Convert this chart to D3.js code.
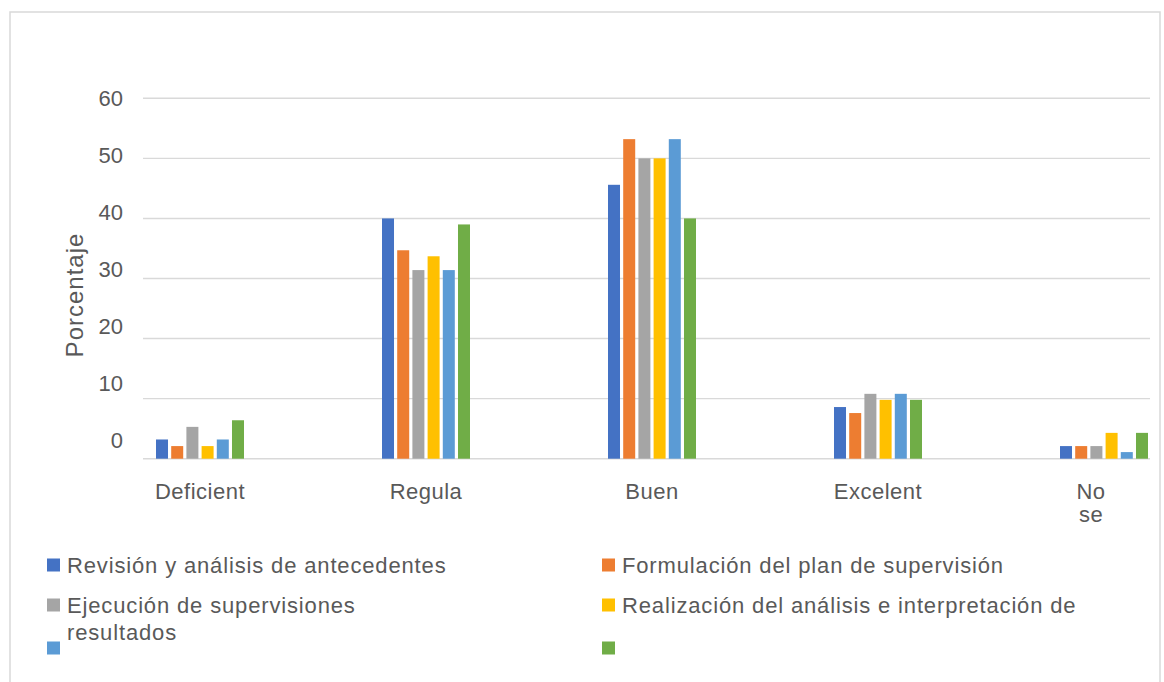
<!DOCTYPE html>
<html>
<head>
<meta charset="utf-8">
<script src="https://cdn.jsdelivr.net/npm/d3@7"></script>
<style>
  body { margin: 0; background: #fff; }
  svg text { font-family: "Liberation Sans", Arial, sans-serif; fill: #595959; }
</style>
</head>
<body>
<svg id="svg" width="1164" height="682"></svg>
<script>
// categories and series
const categories = ["Deficient", "Regula", "Buen", "Excelent", "No se"];
const seriesNames = [
  "Revisión y análisis de antecedentes",
  "Formulación del plan de supervisión",
  "Ejecución de supervisiones",
  "Realización del análisis e interpretación de resultados",
  "",
  ""
];
const seriesColors = ["#4472C4", "#ED7D31", "#A5A5A5", "#FFC000", "#5B9BD5", "#70AD47"];

const revision    = [3.2, 40.0, 45.6, 8.6, 2.1];
const formulacion = [2.1, 34.7, 53.2, 7.6, 2.1];
const ejecucion   = [5.3, 31.4, 50.0, 10.8, 2.1];
const realizacion = [2.1, 33.7, 50.0, 9.8, 4.3];
const serie5      = [3.2, 31.4, 53.2, 10.8, 1.1];
const serie6      = [6.4, 39.0, 40.0, 9.8, 4.3];
const seriesValues = [revision, formulacion, ejecucion, realizacion, serie5, serie6];

const yTicks = [0, 10, 20, 30, 40, 50, 60];

const svg = d3.select("#svg");

// chart frame
svg.append("rect")
  .attr("x", 10).attr("y", 12)
  .attr("width", 1150).attr("height", 700)
  .attr("fill", "none")
  .attr("stroke", "#d9d9d9")
  .attr("stroke-width", 1.5);

var y = d3.scaleLinear().domain([0, 60]).range([458.7, 98.3]);
// tick labels sit on a slightly compressed scale in the original
var yLabel = d3.scaleLinear().domain([0, 60]).range([440.3, 98.3]);

var x0 = d3.scaleBand().domain(categories).range([87, 1217]).padding(0);
var x1 = d3.scaleBand().domain(d3.range(seriesNames.length)).range([-44, 44]).paddingInner(0.21);

var plotRight = 1150;

// gridlines
svg.append("g")
  .selectAll("line")
  .data(yTicks)
  .enter().append("line")
    .attr("x1", 143).attr("x2", plotRight)
    .attr("y1", d => y(d)).attr("y2", d => y(d))
    .attr("stroke", "#d9d9d9")
    .attr("stroke-width", 1.4);

// y tick labels
const yAxis = svg.append("g")
  .attr("transform", "translate(123,0)")
  .call(d3.axisLeft(yLabel).tickValues(yTicks).tickSize(0).tickPadding(0));
yAxis.select(".domain").remove();
yAxis.selectAll("text")
  .attr("fill", "#595959")
  .style("font-size", "22px")
  .style("font-family", "Liberation Sans, Arial, sans-serif");

// y title
svg.append("text")
  .attr("transform", "translate(83,295) rotate(-90)")
  .attr("text-anchor", "middle")
  .style("font-size", "24px")
  .style("letter-spacing", "1px")
  .text("Porcentaje");

// bars
const groups = svg.append("g")
  .selectAll("g")
  .data(categories)
  .enter().append("g")
    .attr("transform", d => "translate(" + (x0(d) + x0.bandwidth() / 2) + ",0)");

groups.selectAll("rect")
  .data((c, ci) => seriesValues.map((vals, si) => ({ si: si, v: vals[ci] })))
  .enter().append("rect")
    .attr("x", d => x1(d.si))
    .attr("width", x1.bandwidth())
    .attr("y", d => y(d.v))
    .attr("height", d => y(0) - y(d.v))
    .attr("fill", d => seriesColors[d.si]);

// category labels (last one is wrapped and kept inside the plot area)
svg.append("g")
  .selectAll("text")
  .data(categories)
  .enter().append("text")
    .attr("text-anchor", "middle")
    .style("font-size", "22px")
    .style("letter-spacing", "0.5px")
    .each(function(d) {
      const words = d === "No se" ? ["No", "se"] : [d];
      const cx = Math.min(x0(d) + x0.bandwidth() / 2, plotRight - 59);
      const t = d3.select(this);
      words.forEach((w, i) => {
        t.append("tspan")
          .attr("x", cx)
          .attr("y", 499 + i * 23)
          .text(w);
      });
    });

// legend
const legendCols = [47, 602];
const legendRows = [565, 605, 648];
const legend = svg.append("g");
seriesNames.forEach((name, i) => {
  const col = i % 2, row = Math.floor(i / 2);
  legend.append("rect")
    .attr("x", legendCols[col])
    .attr("y", legendRows[row] - 6.5)
    .attr("width", 13).attr("height", 13)
    .attr("fill", seriesColors[i]);
  if (name === "") return;
  let lines = [name];
  if (name.endsWith(" resultados")) lines = [name.replace(/ resultados$/, ""), "resultados"];
  legend.append("text")
    .attr("x", legendCols[col] + 20)
    .attr("y", legendRows[row] + 7.5)
    .style("font-size", "22px")
    .style("letter-spacing", "0.85px")
    .text(lines[0]);
  if (lines.length > 1) {
    // the wrapped line lands under the first column in the original
    legend.append("text")
      .attr("x", legendCols[0] + 20)
      .attr("y", legendRows[row] + 35)
      .style("font-size", "22px")
      .style("letter-spacing", "0.85px")
      .text(lines[1]);
  }
});
</script>
</body>
</html>
